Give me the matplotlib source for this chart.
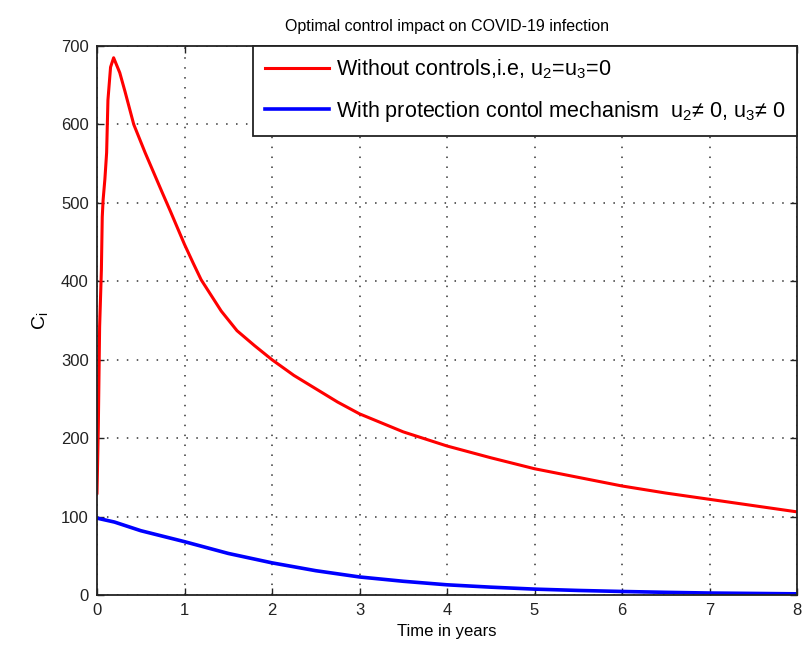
import matplotlib
matplotlib.use("Agg")
import matplotlib.pyplot as plt

plt.rcParams['font.family'] = ['Liberation Sans', 'DejaVu Sans']
plt.rcParams['mathtext.fontset'] = 'custom'
plt.rcParams['mathtext.rm'] = 'Liberation Sans'
plt.rcParams['mathtext.it'] = 'Liberation Sans'
plt.rcParams['mathtext.default'] = 'regular'

# Infected class without controls
t_red = [0, 0.015, 0.03, 0.05, 0.06, 0.07, 0.09, 0.11, 0.125, 0.155, 0.19,
         0.26, 0.32, 0.42, 0.55, 0.65, 0.75, 0.84, 1.0, 1.1, 1.19, 1.42,
         1.6, 1.8, 2.0, 2.25, 2.5, 2.75, 3.0, 3.5, 4.0, 4.5, 5.0, 5.5, 6.0,
         6.5, 7.0, 7.5, 8.0]
c_red = [130, 214, 342, 414, 482, 504, 530, 564, 631, 673, 685,
         666, 642, 600, 564, 538, 512, 489, 447, 423, 402, 362,
         337, 318, 300, 280, 263, 246, 231, 208, 190, 175, 161, 150, 139,
         130, 122, 114, 106]

# Infected class with protection controls
t_blue = [0, 0.2, 0.5, 1.0, 1.5, 2.0, 2.5, 3.0, 3.5, 4.0, 4.5, 5.0, 5.5,
          6.0, 6.5, 7.0, 7.5, 8.0]
c_blue = [98, 93, 82, 68, 53, 41, 31, 23, 17.5, 13, 10, 7.5, 5.8,
          4.5, 3.4, 2.5, 2.0, 1.5]

x_ticks = [0, 1, 2, 3, 4, 5, 6, 7, 8]
y_ticks = [0, 100, 200, 300, 400, 500, 600, 700]

labels = ["Without controls,i.e, u$_2$=u$_3$=0",
          "With protection contol mechanism  u$_2$\u2260 0, u$_3$\u2260 0"]

fig = plt.figure(figsize=(8.02, 6.54), dpi=100)
ax = fig.add_axes([97 / 802, 59 / 654, 700 / 802, 549 / 654])

ax.plot(t_red, c_red, color='#ff0000', lw=2.2, label=labels[0])
ax.plot(t_blue, c_blue, color='#0000ff', lw=2.6, label=labels[1])

ax.set_xlim(0, 8)
ax.set_ylim(0, 700)
ax.set_xticks(x_ticks)
ax.set_yticks(y_ticks)
ax.tick_params(direction='in', top=True, right=True, length=5, width=1,
               labelsize=12, pad=6, colors='#222222')
for s in ax.spines.values():
    s.set_linewidth(1.3)
    s.set_color('#222222')

ax.grid(True, linestyle=(0, (1, 5.5)), color='#333333', linewidth=1.1)

ax.set_title("Optimal control impact on COVID-19 infection", fontsize=11.5, pad=11)
ax.set_xlabel("Time in years", fontsize=12, labelpad=4)
ax.set_ylabel("C$_i$", fontsize=14, labelpad=8)

leg = ax.legend(loc='upper right', borderaxespad=0, fontsize=15.5,
                fancybox=False, framealpha=1, edgecolor='#222222',
                handlelength=3.0, handletextpad=0.3, labelspacing=0.8,
                borderpad=0.55)
leg.get_frame().set_linewidth(1.3)

fig.savefig("out.png", dpi=100)
